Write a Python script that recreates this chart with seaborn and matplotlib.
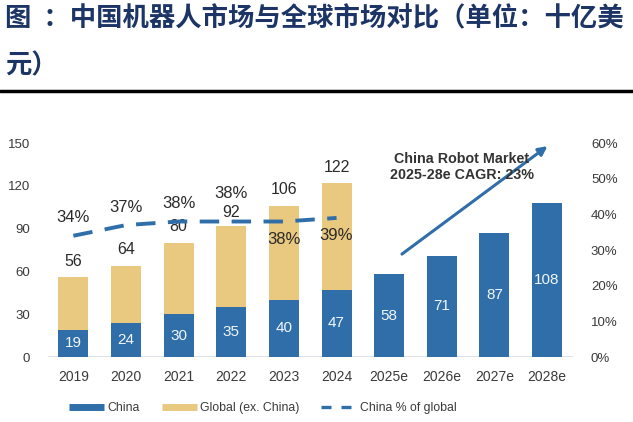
import matplotlib
matplotlib.use("Agg")
import matplotlib.pyplot as plt
import seaborn as sns
import numpy as np
import pandas as pd
from matplotlib.lines import Line2D

years = ["2019", "2020", "2021", "2022", "2023", "2024", "2025e", "2026e", "2027e", "2028e"]
china = [19, 24, 30, 35, 40, 47, 58, 71, 87, 108]
global_total = [56, 64, 80, 92, 106, 122, np.nan, np.nan, np.nan, np.nan]
china_share = [34, 37, 38, 38, 38, 39]
share_labels = ["34%", "37%", "38%", "38%", "38%", "39%"]
share_label_side = ["above", "above", "above", "above", "below", "below"]
left_ticks = [0, 30, 60, 90, 120, 150]
right_ticks = [0, 10, 20, 30, 40, 50, 60]

BLUE = "#2f6ea8"
TAN = "#e9c97f"
TITLE_C = "#1d3566"
TXT = "#2a2a2a"

sns.set_style("white")
plt.rcParams['font.family'] = ['Liberation Sans', 'DejaVu Sans']

fig = plt.figure(figsize=(6.33, 4.22), dpi=100)
ax = fig.add_axes([0.076, 0.154, 0.829, 0.507])

df = pd.DataFrame({"year": years, "china": china, "total": global_total})
sns.barplot(data=df, x="year", y="total", color=TAN, width=0.57, ax=ax,
            saturation=1, edgecolor="none")
sns.barplot(data=df, x="year", y="china", color=BLUE, width=0.57, ax=ax,
            saturation=1, edgecolor="none")

ax.set_ylim(0, 150)
ax.set_xlim(-0.48, 9.49)
ax.set_yticks(left_ticks)
ax.set_xlabel("")
ax.set_ylabel("")
for s in ax.spines.values():
    s.set_visible(False)
ax.axhline(0, color="#d8dde4", lw=1.2, zorder=0)
ax.tick_params(axis="both", length=0, labelcolor="#3a3a3a")
ax.tick_params(axis="y", pad=13, labelsize=9.5)
ax.tick_params(axis="x", pad=9, labelsize=10)

# value labels
for i, v in enumerate(china):
    ax.text(i, v / 2, str(v), ha="center", va="center", color="#f2f6fb", fontsize=11)
for i, t in enumerate(global_total):
    if not np.isnan(t):
        dy = 9.5 if i == 3 else 11.5
        ax.annotate(str(int(t)), (i, t), xytext=(0, dy), textcoords="offset points",
                    ha="center", va="center", color=TXT, fontsize=11.5)

# right axis and share line
ax2 = ax.twinx()
ax2.set_position(ax.get_position())
xs = np.arange(len(china_share))
sns.lineplot(x=xs, y=china_share, ax=ax2, color=BLUE, lw=2.8, linestyle=(0, (5, 3.2)))
ax2.set_ylim(0, 60)
ax2.set_yticks(right_ticks)
ax2.set_yticklabels([f"{t}%" for t in right_ticks])
for s in ax2.spines.values():
    s.set_visible(False)
ax2.tick_params(axis="y", length=0, labelsize=9.5, labelcolor="#3a3a3a", pad=13)
ax2.set_ylabel("")
for i, (v, lab, side) in enumerate(zip(china_share, share_labels, share_label_side)):
    dy = 13 if side == "above" else -13
    if i == 3:
        dy = 20.5  # keep clear of the total label below it
    ax2.annotate(lab, (i, v), xytext=(0, dy), textcoords="offset points",
                 ha="center", va="center", color=TXT, fontsize=12)

# arrow and annotation
ax.annotate("", xy=(9.05, 149), xytext=(6.2, 71),
            arrowprops=dict(arrowstyle="-|>", color=BLUE, lw=2.2, mutation_scale=13))
ax.text(7.38, 133, "China Robot Market\n2025-28e CAGR: 23%", ha="center", va="center",
        fontsize=10.3, fontweight="bold", color="#333333", linespacing=1.2)

# legend
handles = [Line2D([0], [0], color=BLUE, lw=5, solid_capstyle="butt"),
           Line2D([0], [0], color=TAN, lw=5, solid_capstyle="butt"),
           Line2D([0], [0], color=BLUE, lw=2.4, linestyle=(0, (3, 3)), dash_capstyle="butt")]
fig.legend(handles, ["China", "Global (ex. China)", "China % of global"],
           loc="center", bbox_to_anchor=(0.415, 0.032), ncol=3, frameon=False,
           fontsize=8.8, handlelength=2.9, columnspacing=1.8, handletextpad=0.25,
           labelcolor="#3a3a3a")

# title
fig.text(0.008, 0.955, "图  ：中国机器人市场与全球市场对比（单位：十亿美",
         fontsize=19, fontweight="bold", color=TITLE_C, va="center", ha="left",
         family=["Noto Sans CJK SC", "DejaVu Sans"])
fig.text(0.008, 0.845, "元）", fontsize=19, fontweight="bold", color=TITLE_C,
         va="center", ha="left", family=["Noto Sans CJK SC", "DejaVu Sans"])
fig.add_artist(Line2D([0, 1], [1 - 91 / 422, 1 - 91 / 422], color="black", lw=2.5,
                      transform=fig.transFigure))

fig.savefig("out.png", dpi=100)
